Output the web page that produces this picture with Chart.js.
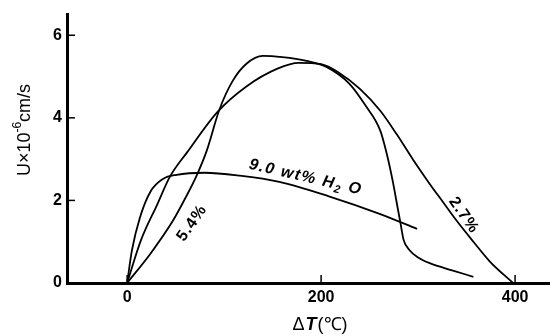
<!DOCTYPE html>
<html>
<head>
<meta charset="utf-8">
<script src="https://cdn.jsdelivr.net/npm/chart.js@4.4.0/dist/chart.umd.min.js"></script>
<style>
body { margin: 0; background: #fff; }
</style>
</head>
<body>
<canvas id="myChart" width="550" height="336"></canvas>
<script>
// values: ΔT in °C, U in 10^-6 cm/s
const dT_9 = [0, 5, 13, 24, 37, 51, 80, 116, 157, 208, 261, 299];
const u_9 = [0, 0.8, 1.57, 2.21, 2.52, 2.62, 2.67, 2.6, 2.45, 2.1, 1.67, 1.31];

const dT_54 = [0, 24, 47, 61, 72, 82, 95, 109, 123, 140, 160, 185, 205, 229, 246, 261, 268, 274, 279, 282, 285, 291, 300, 312, 336, 357];
const u_54 = [0, 0.71, 1.5, 2.1, 2.62, 3.2, 4.19, 4.9, 5.31, 5.5, 5.47, 5.38, 5.24, 4.83, 4.29, 3.69, 3.1, 2.45, 1.81, 1.43, 1.05, 0.8, 0.62, 0.48, 0.3, 0.15];

const dT_27 = [0, 14, 31, 44, 62, 93, 123, 155, 177, 200, 218, 240, 261, 278, 295, 312, 326, 340, 357, 374, 398];
const u_27 = [0, 1.02, 1.9, 2.57, 3.17, 4.14, 4.76, 5.19, 5.33, 5.3, 5.1, 4.7, 4.17, 3.6, 2.98, 2.4, 1.95, 1.5, 1.0, 0.52, 0];

const xTicks = [0, 200, 400];
const yTicks = [0, 2, 4, 6];

function toPoints(xs, ys) {
    return xs.map((x, i) => ({ x: x, y: ys[i] }));
}

function curve(xs, ys) {
    return {
        data: toPoints(xs, ys),
        borderColor: '#000',
        borderWidth: 1.8,
        pointRadius: 0,
        fill: false,
        cubicInterpolationMode: 'monotone'
    };
}

// inward tick marks, curve labels and axis titles
const decorations = {
    id: 'decorations',
    afterDraw(chart) {
        const ctx = chart.ctx;
        const xs = chart.scales.x;
        const ys = chart.scales.y;
        const area = chart.chartArea;

        ctx.save();
        ctx.strokeStyle = '#000';
        ctx.lineWidth = 1.5;
        xTicks.forEach(v => {
            const px = xs.getPixelForValue(v);
            ctx.beginPath();
            ctx.moveTo(px, area.bottom);
            ctx.lineTo(px, area.bottom - 8);
            ctx.stroke();
        });
        yTicks.forEach(v => {
            const py = ys.getPixelForValue(v);
            ctx.beginPath();
            ctx.moveTo(area.left, py);
            ctx.lineTo(area.left + 8, py);
            ctx.stroke();
        });

        ctx.fillStyle = '#000';
        ctx.textBaseline = 'middle';

        // simple rotated labels
        [['5.4%', 67, 1.45, -55], ['2.7%', 347, 1.64, 55]].forEach(l => {
            ctx.save();
            ctx.translate(xs.getPixelForValue(l[1]), ys.getPixelForValue(l[2]));
            ctx.rotate(l[3] * Math.PI / 180);
            ctx.font = 'bold 16px Arial';
            ctx.letterSpacing = '1px';
            ctx.textAlign = 'center';
            ctx.fillText(l[0], 0, 0);
            ctx.restore();
        });

        // 9.0 wt% H2O with subscript
        ctx.save();
        ctx.translate(xs.getPixelForValue(184), ys.getPixelForValue(2.56));
        ctx.rotate(13 * Math.PI / 180);
        ctx.textAlign = 'left';
        ctx.letterSpacing = '1.5px';
        const big = 'italic bold 16px Arial';
        const small = 'italic bold 11px Arial';
        ctx.font = big;
        const w1 = ctx.measureText('9.0 wt% H').width;
        const w3 = ctx.measureText(' O').width;
        ctx.font = small;
        const w2 = ctx.measureText('2').width;
        let x0 = -(w1 + w2 + w3) / 2;
        ctx.font = big;
        ctx.fillText('9.0 wt% H', x0, 0);
        ctx.font = small;
        ctx.fillText('2', x0 + w1, 5);
        ctx.font = big;
        ctx.fillText(' O', x0 + w1 + w2, 0);
        ctx.restore();

        // y axis title
        ctx.save();
        ctx.translate(25, 130);
        ctx.rotate(-Math.PI / 2);
        ctx.textAlign = 'left';
        ctx.font = '18px Arial';
        const a = ctx.measureText('U×10').width;
        const c = ctx.measureText('cm/s').width;
        ctx.font = '12px Arial';
        const b = ctx.measureText('-6').width;
        let s = -(a + b + c) / 2;
        ctx.font = '18px Arial';
        ctx.fillText('U×10', s, 0);
        ctx.font = '12px Arial';
        ctx.fillText('-6', s + a, -7);
        ctx.font = '18px Arial';
        ctx.fillText('cm/s', s + a + b, 0);
        ctx.restore();

        // x axis title
        ctx.save();
        ctx.textAlign = 'left';
        ctx.font = '18px Arial';
        const d1 = ctx.measureText('Δ').width;
        const d3 = ctx.measureText('(℃)').width;
        ctx.font = 'italic bold 18px Arial';
        const d2 = ctx.measureText('T').width + 2;
        let t = 320 - (d1 + d2 + d3) / 2;
        ctx.font = '18px Arial';
        ctx.fillText('Δ', t, 325);
        ctx.font = 'italic bold 18px Arial';
        ctx.fillText('T', t + d1 + 1, 325);
        ctx.font = '18px Arial';
        ctx.fillText('(℃)', t + d1 + d2, 325);
        ctx.restore();

        ctx.restore();
    }
};

var ctx = document.getElementById('myChart').getContext('2d');
var myChart = new Chart(ctx, {
    type: 'line',
    data: {
        datasets: [curve(dT_9, u_9), curve(dT_54, u_54), curve(dT_27, u_27)]
    },
    options: {
        responsive: false,
        animation: false,
        layout: { padding: { top: 10, left: 0, right: 0, bottom: 0 } },
        plugins: {
            legend: { display: false },
            tooltip: { enabled: false }
        },
        scales: {
            x: {
                type: 'linear',
                min: -62,
                max: 436,
                afterBuildTicks: s => { s.ticks = xTicks.map(v => ({ value: v })); },
                afterFit: s => { s.height = 53; },
                grid: { display: false, drawTicks: false },
                border: { display: true, color: '#000', width: 3 },
                ticks: {
                    color: '#000',
                    font: { family: 'Arial', size: 16, weight: 'bold' },
                    padding: 5,
                    maxRotation: 0
                }
            },
            y: {
                type: 'linear',
                min: 0,
                max: 6.5,
                afterBuildTicks: s => { s.ticks = yTicks.map(v => ({ value: v })); },
                afterFit: s => { s.width = 67; },
                grid: { display: false, drawTicks: false },
                border: { display: true, color: '#000', width: 3 },
                ticks: {
                    color: '#000',
                    font: { family: 'Arial', size: 16, weight: 'bold' },
                    padding: 5
                }
            }
        }
    },
    plugins: [decorations]
});
</script>
</body>
</html>
